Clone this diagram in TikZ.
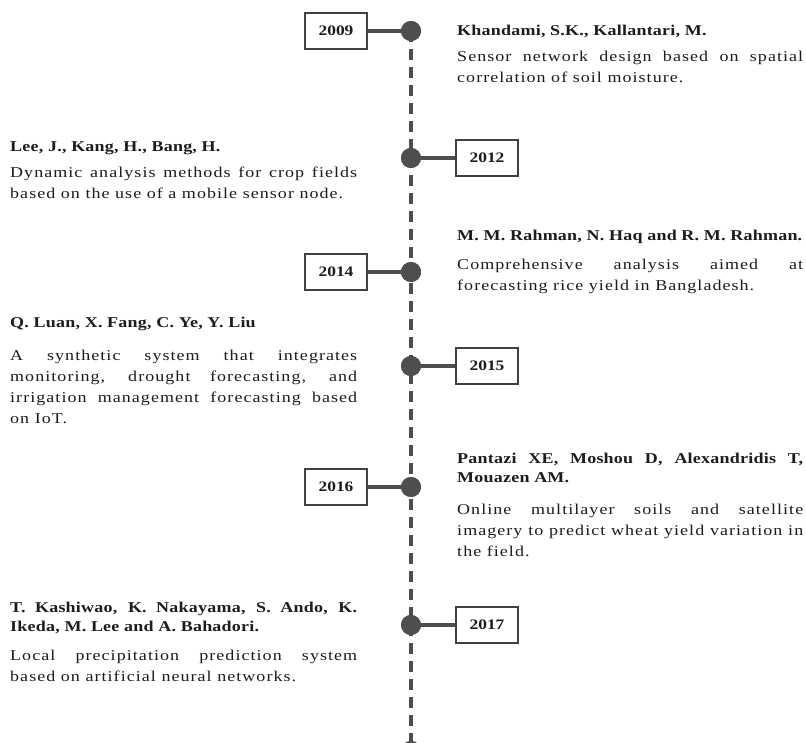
\documentclass[tikz,border=0pt]{standalone}
\usepackage{fontspec}
\setmainfont{Liberation Serif}[FakeStretch=1.2]
\newfontfamily\bodyfont{Liberation Serif}[FakeStretch=1.2, LetterSpace=7]
\newfontfamily\namefont{Liberation Serif}[FakeStretch=1.2, LetterSpace=1.5]
\definecolor{linegray}{HTML}{4E4E4E}
\definecolor{boxgray}{HTML}{404040}
\definecolor{inkblack}{HTML}{1C1C1C}
\tikzset{
  yearbox/.style={draw=boxgray, line width=1.3pt, fill=white, text=inkblack,
    minimum width=62pt, minimum height=36pt, inner sep=0pt,
    font=\fontsize{14.5}{17}\selectfont\bfseries},
  tdot/.style={circle, fill=linegray, minimum size=20pt, inner sep=0pt},
  link/.style={draw=linegray, line width=4pt},
  spine/.style={draw=linegray, line width=4.3pt, dash pattern=on 11pt off 7pt},
  authors/.style={anchor=base west, inner sep=0pt, align=justify, text=inkblack,
    font=\namefont\fontsize{15}{19.5}\selectfont\bfseries},
  summary/.style={anchor=base west, inner sep=0pt, align=justify, text=inkblack,
    font=\bodyfont\fontsize{15}{21}\selectfont},
  leftcol/.style={text width=347pt},
  rightcol/.style={text width=346pt},
}
\begin{document}
\begin{tikzpicture}[x=1pt, y=-1pt]
  % page frame
  \fill[white] (0,0) rectangle (806,743);
  \useasboundingbox (0,0) rectangle (806,743);
  \clip (0,0) rectangle (806,743);

  % timeline dots
  \node[tdot] (d2009) at (411,31) {};
  \node[tdot] (d2012) at (411,158) {};
  \node[tdot] (d2014) at (411,272) {};
  \node[tdot] (d2015) at (411,366) {};
  \node[tdot] (d2016) at (411,487) {};
  \node[tdot] (d2017) at (411,625) {};
  \node[tdot] (dend)  at (411,751) {};

  % year boxes
  \node[yearbox] (y2009) at (336,31)  {2009};
  \node[yearbox] (y2012) at (487,158) {2012};
  \node[yearbox] (y2014) at (336,272) {2014};
  \node[yearbox] (y2015) at (487,366) {2015};
  \node[yearbox] (y2016) at (336,487) {2016};
  \node[yearbox] (y2017) at (487,625) {2017};

  % dashed spine and connectors, then the dots on top
  \path[spine] (d2009.center) -- (dend.center);
  \path[link] (y2009.east) -- (d2009.center);
  \path[link] (y2012.west) -- (d2012.center);
  \path[link] (y2014.east) -- (d2014.center);
  \path[link] (y2015.west) -- (d2015.center);
  \path[link] (y2016.east) -- (d2016.center);
  \path[link] (y2017.west) -- (d2017.center);
  \foreach \d in {d2009,d2012,d2014,d2015,d2016,d2017,dend}
    \fill[linegray] (\d) circle (10pt);

  % 2009
  \node[authors, rightcol] (a2009) at (457,36) {Khandami, S.K., Kallantari, M.};
  \node[summary, rightcol] (s2009) at (457,62) {Sensor network design based on spatial\linebreak correlation of soil moisture.};
  % 2012
  \node[authors, leftcol] (a2012) at (10,152) {Lee, J., Kang, H., Bang, H.};
  \node[summary, leftcol] (s2012) at (10,178) {Dynamic analysis methods for crop fields\linebreak based on the use of a mobile sensor node.};
  % 2014
  \node[authors, rightcol] (a2014) at (457,241) {M. M. Rahman, N. Haq and R. M. Rahman.};
  \node[summary, rightcol] (s2014) at (457,270) {Comprehensive analysis aimed at\linebreak forecasting rice yield in Bangladesh.};
  % 2015
  \node[authors, leftcol] (a2015) at (10,327) {Q. Luan, X. Fang, C. Ye, Y. Liu};
  \node[summary, leftcol] (s2015) at (10,360) {A synthetic system that integrates\linebreak monitoring, drought forecasting, and\linebreak irrigation management forecasting based\linebreak on IoT.};
  % 2016
  \node[authors, rightcol] (a2016) at (457,463) {Pantazi XE, Moshou D, Alexandridis T,\linebreak Mouazen AM.};
  \node[summary, rightcol] (s2016) at (457,514) {Online multilayer soils and satellite\linebreak imagery to predict wheat yield variation in\linebreak the field.};
  % 2017
  \node[authors, leftcol] (a2017) at (10,612) {T. Kashiwao, K. Nakayama, S. Ando, K.\linebreak Ikeda, M. Lee and A. Bahadori.};
  \node[summary, leftcol] (s2017) at (10,660) {Local precipitation prediction system\linebreak based on artificial neural networks.};
\end{tikzpicture}
\end{document}
